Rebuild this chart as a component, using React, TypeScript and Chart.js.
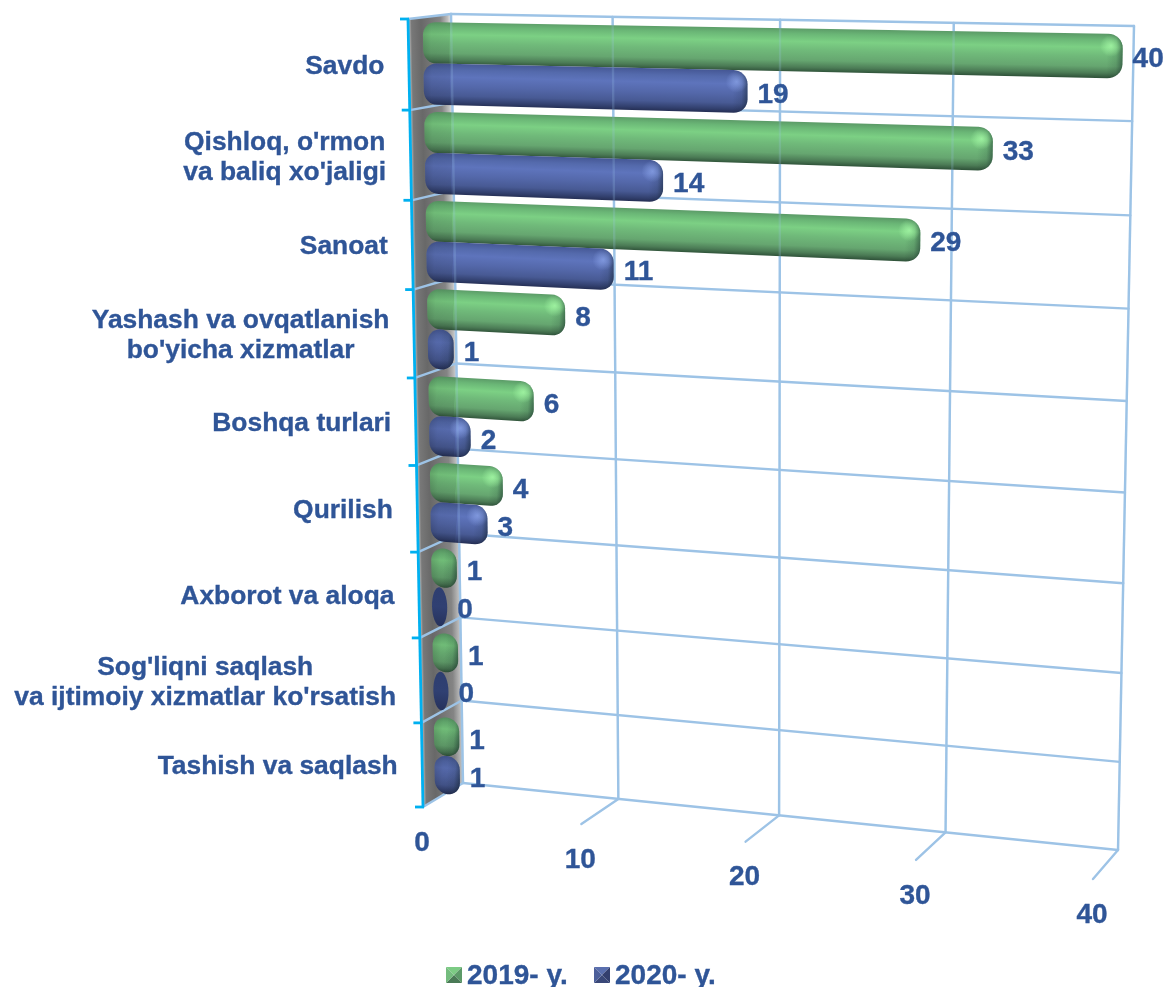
import React, { useEffect, useRef } from "react";
import { Chart, registerables } from "chart.js";

Chart.register(...registerables);

const categories: string[][] = [
  ["Savdo"],
  ["Qishloq, o'rmon", "va baliq xo'jaligi"],
  ["Sanoat"],
  ["Yashash va ovqatlanish", "bo'yicha xizmatlar"],
  ["Boshqa turlari"],
  ["Qurilish"],
  ["Axborot va aloqa"],
  ["Sog'liqni saqlash", "va ijtimoiy xizmatlar ko'rsatish"],
  ["Tashish va saqlash"],
];
const values2019 = [40, 33, 29, 8, 6, 4, 1, 1, 1];
const values2020 = [19, 14, 11, 1, 2, 3, 0, 0, 1];
const seriesNames = ["2019- y.", "2020- y."];
const valueTicks = { min: 0, max: 40, step: 10 };

const TEXT = "#2F5597";
const GRID = "#9DC3E6";
const AXIS = "#00B0F0";
const FONT_CAT = "bold 26.4px 'Liberation Sans', Arial, sans-serif";
const FONT_NUM = "bold 28px 'Liberation Sans', Arial, sans-serif";

type Pt = [number, number];
type Stop = [number, [number, number, number]];

const GREEN: Stop[] = [
  [0, [92, 156, 104]],
  [0.12, [106, 182, 118]],
  [0.3, [124, 208, 132]],
  [0.5, [112, 186, 122]],
  [0.74, [102, 166, 112]],
  [0.9, [76, 124, 86]],
  [1, [50, 86, 60]],
];
const BLUE: Stop[] = [
  [0, [70, 88, 150]],
  [0.15, [84, 106, 172]],
  [0.32, [94, 116, 188]],
  [0.55, [84, 104, 170]],
  [0.77, [72, 90, 148]],
  [0.92, [50, 64, 110]],
  [1, [38, 48, 86]],
];
const DARK: Stop[] = [
  [0, [46, 62, 112]],
  [0.5, [48, 64, 114]],
  [1, [38, 50, 92]],
];

function quad(p: Pt[]) {
  const [[x0, y0], [x1, y1], [x2, y2], [x3, y3]] = p;
  const dx1 = x1 - x2, dx2 = x3 - x2, sx = x0 - x1 + x2 - x3;
  const dy1 = y1 - y2, dy2 = y3 - y2, sy = y0 - y1 + y2 - y3;
  const den = dx1 * dy2 - dx2 * dy1;
  const g = (sx * dy2 - dx2 * sy) / den;
  const h = (dx1 * sy - sx * dy1) / den;
  const a = x1 - x0 + g * x1, b = x3 - x0 + h * x3;
  const d = y1 - y0 + g * y1, e = y3 - y0 + h * y3;
  return (u: number, v: number): Pt => {
    const w = g * u + h * v + 1;
    return [(a * u + b * v + x0) / w, (d * u + e * v + y0) / w];
  };
}

const back = quad([[451, 14], [1134, 26], [1118, 850], [463, 783]]);
const front = quad([[408, 19], [1110, 31], [1093, 879], [423, 807]]);
const mid = quad([[431, 18.5], [1121, 30], [1103, 867], [443, 797]]);

function line(ctx: CanvasRenderingContext2D, a: Pt, b: Pt) {
  ctx.beginPath();
  ctx.moveTo(a[0], a[1]);
  ctx.lineTo(b[0], b[1]);
  ctx.stroke();
}
function poly(ctx: CanvasRenderingContext2D, pts: Pt[]) {
  ctx.beginPath();
  pts.forEach((p, i) => (i ? ctx.lineTo(p[0], p[1]) : ctx.moveTo(p[0], p[1])));
  ctx.closePath();
}
function rgb(c: number[]) {
  return `rgb(${c[0]},${c[1]},${c[2]})`;
}
function label(ctx: CanvasRenderingContext2D, s: string, x: number, y: number) {
  ctx.fillStyle = TEXT;
  ctx.strokeStyle = TEXT;
  ctx.lineWidth = 0.35;
  ctx.fillText(s, x, y);
  ctx.strokeText(s, x, y);
}

const wallStops: Stop[] = [
  [0, [205, 205, 205]],
  [0.08, [120, 120, 120]],
  [0.3, [104, 104, 104]],
  [0.75, [132, 132, 132]],
  [0.92, [190, 190, 190]],
  [1, [238, 238, 238]],
];

const perspective = {
  id: "perspective",
  beforeDatasetsDraw(chart: any) {
    const ctx: CanvasRenderingContext2D = chart.ctx;
    const area = chart.chartArea;
    const xs = chart.scales.x;
    const ys = chart.scales.y;
    const U = (px: number) => (px - area.left) / (area.right - area.left);
    const V = (py: number) => (py - area.top) / (area.bottom - area.top);
    const ticks: number[] = xs.ticks.map((t: any) => t.value);
    const n = chart.data.labels.length;
    const bands: number[] = [];
    for (let k = 0; k <= n; k++) bands.push(V(ys.getPixelForValue(k - 0.5)));

    ctx.save();
    // side wall: gradient across the band, applied between the two edges
    const wt = front(0, 0), wb = back(0, 0);
    const wg = ctx.createLinearGradient(wt[0], wt[1] + 2, wb[0], wt[1] + 2);
    wallStops.forEach((s) => wg.addColorStop(s[0], rgb(s[1])));
    const sideShear = (front(0, 1)[0] - front(0, 0)[0]) / (front(0, 1)[1] - front(0, 0)[1]);
    ctx.save();
    poly(ctx, [front(0, 0), back(0, 0), back(0, 1), front(0, 1)]);
    ctx.clip();
    ctx.transform(1, 0, sideShear, 1, -sideShear * wt[1], 0);
    ctx.fillStyle = wg;
    ctx.fillRect(wt[0] - 40, 0, 120, 900);
    ctx.restore();

    const drawGrid = () => {
      ticks.forEach((t) => {
        const u = U(xs.getPixelForValue(t));
        line(ctx, back(u, 0), back(u, 1));
      });
    };
    // back wall grid
    ctx.strokeStyle = GRID;
    ctx.lineWidth = 2.4;
    ctx.lineCap = "round";
    drawGrid();
    bands.forEach((v) => {
      line(ctx, back(0, v), back(1, v));
      line(ctx, front(0, v), back(0, v));
    });
    // floor ticks
    ticks.forEach((t) => {
      const u = U(xs.getPixelForValue(t));
      if (t > 0) line(ctx, back(u, 1), front(u, 1));
    });
    // category axis
    ctx.strokeStyle = AXIS;
    ctx.lineWidth = 2.8;
    ctx.lineCap = "butt";
    line(ctx, front(0, 0), front(0, 1));
    bands.forEach((v) => {
      const p = front(0, v);
      line(ctx, [p[0] - 8, p[1]], [p[0] + 1, p[1]]);
    });

    // bars
    const ends: { x: number; y: number; d: number; v: number }[] = [];
    chart.data.datasets.forEach((ds: any, di: number) => {
      const meta = chart.getDatasetMeta(di);
      meta.data.forEach((el: any, i: number) => {
        const val = ds.data[i];
        const L = el.base - 9;
        const R = Math.max(el.x + 2, el.base + 8);
        const T = el.y - el.height / 2;
        const B = el.y + el.height / 2;
        const pr = (x: number, y: number) => mid(U(x), V(y));
        const wid = R - L;
        const rx = Math.min(14, wid / 2);
        const ry = val === 0 ? (B - T) / 2 : 14;
        const outline: Pt[] = [];
        const corner = (cx: number, cy: number, a0: number) => {
          for (let k = 0; k <= 8; k++) {
            const a = a0 + (k / 8) * (Math.PI / 2);
            outline.push(pr(cx + rx * Math.cos(a), cy + ry * Math.sin(a)));
          }
        };
        corner(R - rx, T + ry, -Math.PI / 2);
        corner(R - rx, B - ry, 0);
        corner(L + rx, B - ry, Math.PI / 2);
        corner(L + rx, T + ry, Math.PI);

        ctx.save();
        poly(ctx, outline);
        ctx.clip();
        const stops = val === 0 ? DARK : di === 0 ? GREEN : BLUE;
        // shading across the bar's thickness, perpendicular to its axis
        const cy = (T + B) / 2;
        const mx = (L + R) / 2;
        const aL = pr(L, cy), aR = pr(R, cy);
        const alen = Math.hypot(aR[0] - aL[0], aR[1] - aL[1]) || 1;
        const nx = -(aR[1] - aL[1]) / alen, ny = (aR[0] - aL[0]) / alen;
        const p0 = pr(mx, T), p1 = pr(mx, B);
        const th = (p1[0] - p0[0]) * nx + (p1[1] - p0[1]) * ny;
        const grad = ctx.createLinearGradient(p0[0], p0[1], p0[0] + nx * th, p0[1] + ny * th);
        stops.forEach((s) => grad.addColorStop(s[0], rgb(s[1])));
        ctx.fillStyle = grad;
        const box = (pts: Pt[]) => {
          const a = pts.map((q) => q[0]), b = pts.map((q) => q[1]);
          return [Math.min(...a), Math.min(...b), Math.max(...a) - Math.min(...a), Math.max(...b) - Math.min(...b)];
        };
        const bb = box(outline);
        ctx.fillRect(bb[0] - 2, bb[1] - 2, bb[2] + 4, bb[3] + 4);

        if (val !== 0) {
          // left part seen through the side wall
          const a = pr(L, cy), b = pr(L + 29, cy);
          let g = ctx.createLinearGradient(a[0], a[1], b[0], b[1]);
          g.addColorStop(0, "rgba(0,0,0,0.2)");
          g.addColorStop(0.3, "rgba(0,0,0,0.1)");
          g.addColorStop(0.98, "rgba(0,0,0,0.08)");
          g.addColorStop(1, "rgba(0,0,0,0)");
          ctx.fillStyle = g;
          ctx.fillRect(bb[0] - 2, bb[1] - 2, bb[2] + 4, bb[3] + 4);
          // right cap
          const c = pr(R - 15, cy), d = pr(R, cy);
          g = ctx.createLinearGradient(c[0], c[1], d[0], d[1]);
          g.addColorStop(0, "rgba(10,25,30,0)");
          g.addColorStop(0.6, "rgba(10,25,30,0.12)");
          g.addColorStop(1, "rgba(10,25,30,0.45)");
          ctx.fillStyle = g;
          ctx.fillRect(bb[0] - 2, bb[1] - 2, bb[2] + 4, bb[3] + 4);
          if (wid > 40) {
            const p = pr(R - 11, T + (B - T) * 0.27);
            const r = ctx.createRadialGradient(p[0], p[1], 0, p[0], p[1], 11);
            const tint = di === 0 ? "170,255,170" : "140,165,235";
            r.addColorStop(0, `rgba(${tint},0.75)`);
            r.addColorStop(1, `rgba(${tint},0)`);
            ctx.fillStyle = r;
            ctx.fillRect(p[0] - 12, p[1] - 12, 24, 24);
          }
        }
        ctx.restore();
        const e = pr(R, el.y);
        ends.push({ x: e[0], y: e[1], d: di, v: val });
      });
    });

    // grid showing faintly through the bars
    ctx.strokeStyle = "rgba(157,195,230,0.22)";
    ctx.lineWidth = 2.4;
    drawGrid();

    // value labels
    ctx.font = FONT_NUM;
    ctx.textBaseline = "middle";
    ctx.textAlign = "left";
    ends.forEach((e) => label(ctx, String(e.v), e.x + 10, e.y + 3));

    // category labels
    ctx.font = FONT_CAT;
    chart.data.labels.forEach((lines: string[], i: number) => {
      const p = front(0, V(ys.getPixelForValue(i)));
      const wmax = Math.max(...lines.map((l) => ctx.measureText(l).width));
      const cx = p[0] - 24.5 - wmax / 2;
      ctx.textAlign = "center";
      lines.forEach((l, k) => {
        label(ctx, l, cx, p[1] + 2 + (k - (lines.length - 1) / 2) * 30);
      });
    });

    // value axis labels
    ctx.font = FONT_NUM;
    ctx.textAlign = "center";
    ticks.forEach((t) => {
      const p = front(U(xs.getPixelForValue(t)), 1);
      label(ctx, String(t), p[0] - 1, p[1] + 36);
    });

    // legend
    const swatch = (x: number, y: number, s: number, c: string[]) => {
      const m: Pt = [x + s / 2, y + s / 2];
      const tl: Pt = [x, y], tr: Pt = [x + s, y], br: Pt = [x + s, y + s], bl: Pt = [x, y + s];
      [[tl, tr], [tr, br], [br, bl], [bl, tl]].forEach((pair, i) => {
        ctx.fillStyle = c[i];
        poly(ctx, [pair[0] as Pt, pair[1] as Pt, m]);
        ctx.fill();
      });
    };
    const pal = [
      ["#7CCB84", "#5C9A68", "#4A7A56", "#74BC7E"],
      ["#5A6FAE", "#333F6E", "#3A4878", "#4C5F9A"],
    ];
    const lx = [446, 594];
    chart.data.datasets.forEach((ds: any, i: number) => {
      swatch(lx[i], 967, 16, pal[i]);
      ctx.textAlign = "left";
      label(ctx, ds.label, lx[i] + 21, 976);
    });
    ctx.restore();
    return false;
  },
};

export default function App() {
  const ref = useRef<HTMLCanvasElement>(null);
  useEffect(() => {
    if (!ref.current) return;
    const chart = new Chart(ref.current, {
      type: "bar",
      data: {
        labels: categories as any,
        datasets: [
          { label: seriesNames[0], data: values2019, backgroundColor: "#70BA7A" },
          { label: seriesNames[1], data: values2020, backgroundColor: "#5468AA" },
        ],
      },
      options: {
        indexAxis: "y",
        responsive: false,
        animation: false,
        layout: { padding: { left: 431, right: 43, top: 17, bottom: 122 } },
        datasets: { bar: { barPercentage: 1, categoryPercentage: 0.92 } },
        plugins: { legend: { display: false }, tooltip: { enabled: false } },
        scales: {
          x: { display: false, min: valueTicks.min, max: valueTicks.max, ticks: { stepSize: valueTicks.step } },
          y: { display: false },
        },
      } as any,
      plugins: [perspective as any],
    });
    return () => chart.destroy();
  }, []);
  return (
    <div style={{ position: "absolute", left: 0, top: 0, width: 1167, height: 987, background: "#fff" }}>
      <canvas ref={ref} width={1167} height={987} style={{ display: "block" }} />
    </div>
  );
}
